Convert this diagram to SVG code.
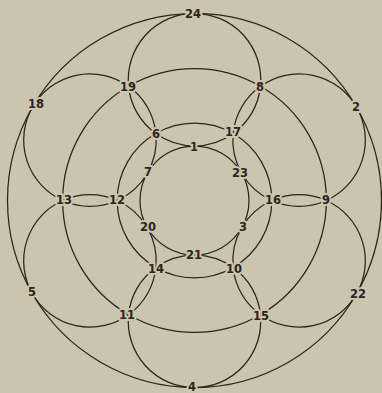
<svg xmlns="http://www.w3.org/2000/svg" width="382" height="393" viewBox="0 0 382 393">
<style>
.bg{fill:#cbc4ae}
.e{fill:none;stroke:#2a2520;stroke-width:1.25;stroke-linecap:round}
.lbl{font-family:"DejaVu Sans","Liberation Sans",sans-serif;font-size:11.5px;font-weight:bold;fill:#2a2520;text-anchor:middle;stroke:#cbc4ae;stroke-width:4;paint-order:stroke;stroke-linejoin:round}
</style>
<rect class="bg" x="0" y="0" width="382" height="393"/>
<g id="connectors">
<!-- outer circle -->
<path class="e" d="M356.45,107 A187,187 0 0 0 194.5,13.5"/>
<path class="e" d="M194.5,13.5 A187,187 0 0 0 32.55,107"/>
<path class="e" d="M32.55,107 A187,187 0 0 0 32.55,294"/>
<path class="e" d="M32.55,294 A187,187 0 0 0 194.5,387.5"/>
<path class="e" d="M194.5,387.5 A187,187 0 0 0 356.45,294"/>
<path class="e" d="M356.45,294 A187,187 0 0 0 356.45,107"/>
<!-- second circle -->
<path class="e" d="M326.35,200.5 A131.85,131.85 0 0 0 260.43,86.32"/>
<path class="e" d="M260.43,86.32 A131.85,131.85 0 0 0 128.58,86.32"/>
<path class="e" d="M128.58,86.32 A131.85,131.85 0 0 0 62.65,200.5"/>
<path class="e" d="M62.65,200.5 A131.85,131.85 0 0 0 128.58,314.69"/>
<path class="e" d="M128.58,314.69 A131.85,131.85 0 0 0 260.43,314.69"/>
<path class="e" d="M260.43,314.69 A131.85,131.85 0 0 0 326.35,200.5"/>
<!-- third circle -->
<path class="e" d="M271.8,200.5 A77.3,77.3 0 0 0 233.15,133.56"/>
<path class="e" d="M233.15,133.56 A77.3,77.3 0 0 0 155.85,133.56"/>
<path class="e" d="M155.85,133.56 A77.3,77.3 0 0 0 117.2,200.5"/>
<path class="e" d="M117.2,200.5 A77.3,77.3 0 0 0 155.85,267.44"/>
<path class="e" d="M155.85,267.44 A77.3,77.3 0 0 0 233.15,267.44"/>
<path class="e" d="M233.15,267.44 A77.3,77.3 0 0 0 271.8,200.5"/>
<!-- inner circle -->
<path class="e" d="M241.7,173.25 A54.5,54.5 0 0 0 194.5,146"/>
<path class="e" d="M194.5,146 A54.5,54.5 0 0 0 147.3,173.25"/>
<path class="e" d="M147.3,173.25 A54.5,54.5 0 0 0 147.3,227.75"/>
<path class="e" d="M147.3,227.75 A54.5,54.5 0 0 0 194.5,255"/>
<path class="e" d="M194.5,255 A54.5,54.5 0 0 0 241.7,227.75"/>
<path class="e" d="M241.7,227.75 A54.5,54.5 0 0 0 241.7,173.25"/>
<!-- tangent circle at 24: 24,8,17,1,6,19 -->
<path class="e" d="M194.5,13.5 A66.25,66.25 0 0 1 260.43,86.32"/>
<path class="e" d="M260.43,86.32 A66.25,66.25 0 0 1 233.15,133.56"/>
<path class="e" d="M233.15,133.56 A66.25,66.25 0 0 1 194.5,146"/>
<path class="e" d="M194.5,146 A66.25,66.25 0 0 1 155.85,133.56"/>
<path class="e" d="M155.85,133.56 A66.25,66.25 0 0 1 128.58,86.32"/>
<path class="e" d="M128.58,86.32 A66.25,66.25 0 0 1 194.5,13.5"/>
<!-- tangent circle at 2: 2,9,16,23,17,8 -->
<path class="e" d="M356.45,107 A66.25,66.25 0 0 1 326.35,200.5"/>
<path class="e" d="M326.35,200.5 A66.25,66.25 0 0 1 271.8,200.5"/>
<path class="e" d="M271.8,200.5 A66.25,66.25 0 0 1 241.7,173.25"/>
<path class="e" d="M241.7,173.25 A66.25,66.25 0 0 1 233.15,133.56"/>
<path class="e" d="M233.15,133.56 A66.25,66.25 0 0 1 260.43,86.32"/>
<path class="e" d="M260.43,86.32 A66.25,66.25 0 0 1 356.45,107"/>
<!-- tangent circle at 22: 22,15,10,3,16,9 -->
<path class="e" d="M356.45,294 A66.25,66.25 0 0 1 260.43,314.69"/>
<path class="e" d="M260.43,314.69 A66.25,66.25 0 0 1 233.15,267.44"/>
<path class="e" d="M233.15,267.44 A66.25,66.25 0 0 1 241.7,227.75"/>
<path class="e" d="M241.7,227.75 A66.25,66.25 0 0 1 271.8,200.5"/>
<path class="e" d="M271.8,200.5 A66.25,66.25 0 0 1 326.35,200.5"/>
<path class="e" d="M326.35,200.5 A66.25,66.25 0 0 1 356.45,294"/>
<!-- tangent circle at 4: 4,11,14,21,10,15 -->
<path class="e" d="M194.5,387.5 A66.25,66.25 0 0 1 128.58,314.69"/>
<path class="e" d="M128.58,314.69 A66.25,66.25 0 0 1 155.85,267.44"/>
<path class="e" d="M155.85,267.44 A66.25,66.25 0 0 1 194.5,255"/>
<path class="e" d="M194.5,255 A66.25,66.25 0 0 1 233.15,267.44"/>
<path class="e" d="M233.15,267.44 A66.25,66.25 0 0 1 260.43,314.69"/>
<path class="e" d="M260.43,314.69 A66.25,66.25 0 0 1 194.5,387.5"/>
<!-- tangent circle at 5: 5,13,12,20,14,11 -->
<path class="e" d="M32.55,294 A66.25,66.25 0 0 1 62.65,200.5"/>
<path class="e" d="M62.65,200.5 A66.25,66.25 0 0 1 117.2,200.5"/>
<path class="e" d="M117.2,200.5 A66.25,66.25 0 0 1 147.3,227.75"/>
<path class="e" d="M147.3,227.75 A66.25,66.25 0 0 1 155.85,267.44"/>
<path class="e" d="M155.85,267.44 A66.25,66.25 0 0 1 128.58,314.69"/>
<path class="e" d="M128.58,314.69 A66.25,66.25 0 0 1 32.55,294"/>
<!-- tangent circle at 18: 18,19,6,7,12,13 -->
<path class="e" d="M32.55,107 A66.25,66.25 0 0 1 128.58,86.32"/>
<path class="e" d="M128.58,86.32 A66.25,66.25 0 0 1 155.85,133.56"/>
<path class="e" d="M155.85,133.56 A66.25,66.25 0 0 1 147.3,173.25"/>
<path class="e" d="M147.3,173.25 A66.25,66.25 0 0 1 117.2,200.5"/>
<path class="e" d="M117.2,200.5 A66.25,66.25 0 0 1 62.65,200.5"/>
<path class="e" d="M62.65,200.5 A66.25,66.25 0 0 1 32.55,107"/>
</g>
<g id="n24"><text class="lbl" x="193" y="18">24</text></g>
<g id="n2"><text class="lbl" x="356" y="111">2</text></g>
<g id="n22"><text class="lbl" x="358" y="298">22</text></g>
<g id="n4"><text class="lbl" x="192" y="391">4</text></g>
<g id="n5"><text class="lbl" x="32" y="296">5</text></g>
<g id="n18"><text class="lbl" x="36" y="108">18</text></g>
<g id="n19"><text class="lbl" x="128" y="91">19</text></g>
<g id="n8"><text class="lbl" x="260" y="91">8</text></g>
<g id="n9"><text class="lbl" x="326" y="204">9</text></g>
<g id="n15"><text class="lbl" x="261" y="320">15</text></g>
<g id="n11"><text class="lbl" x="127" y="319">11</text></g>
<g id="n13"><text class="lbl" x="64" y="204">13</text></g>
<g id="n6"><text class="lbl" x="156" y="138">6</text></g>
<g id="n17"><text class="lbl" x="233" y="136">17</text></g>
<g id="n16"><text class="lbl" x="273" y="204">16</text></g>
<g id="n10"><text class="lbl" x="234" y="273">10</text></g>
<g id="n14"><text class="lbl" x="156" y="273">14</text></g>
<g id="n12"><text class="lbl" x="117" y="204">12</text></g>
<g id="n1"><text class="lbl" x="194" y="151">1</text></g>
<g id="n23"><text class="lbl" x="240" y="177">23</text></g>
<g id="n3"><text class="lbl" x="243" y="231">3</text></g>
<g id="n21"><text class="lbl" x="194" y="259">21</text></g>
<g id="n20"><text class="lbl" x="148" y="231">20</text></g>
<g id="n7"><text class="lbl" x="148" y="176">7</text></g>
</svg>
